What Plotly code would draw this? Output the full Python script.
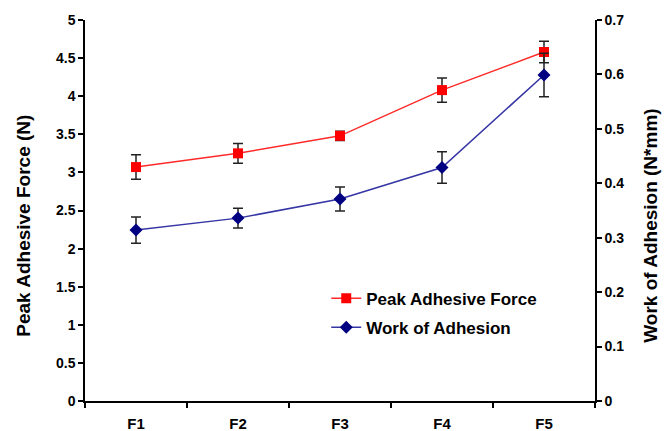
import plotly.graph_objects as go

categories = ["F1", "F2", "F3", "F4", "F5"]
peak_force = [3.07, 3.25, 3.48, 4.08, 4.58]
peak_force_err = [0.16, 0.13, 0.06, 0.16, 0.14]
work_adhesion = [0.314, 0.336, 0.371, 0.429, 0.599]
work_adhesion_err = [0.024, 0.018, 0.022, 0.029, 0.040]

left_ticks = [0, 0.5, 1, 1.5, 2, 2.5, 3, 3.5, 4, 4.5, 5]
left_ticktext = ["0", "0.5", "1", "1.5", "2", "2.5", "3", "3.5", "4", "4.5", "5"]
right_ticks = [0, 0.1, 0.2, 0.3, 0.4, 0.5, 0.6, 0.7]
right_ticktext = ["0", "0.1", "0.2", "0.3", "0.4", "0.5", "0.6", "0.7"]

FONT = "Liberation Sans, Arial, sans-serif"

fig = go.Figure()
fig.add_trace(go.Scatter(
    x=categories, y=peak_force, name="Peak Adhesive Force",
    mode="lines+markers", legendgroup="a",
    line=dict(color="#FF2A2A", width=1.5),
    marker=dict(symbol="square", size=10, color="#FF0000"),
    error_y=dict(type="data", array=peak_force_err, color="#222222", thickness=1.5, width=5),
    yaxis="y", xaxis="x",
))
fig.add_trace(go.Scatter(
    x=categories, y=work_adhesion, name="Work of Adhesion",
    mode="lines+markers", legendgroup="b",
    line=dict(color="#3535A5", width=1.5),
    marker=dict(symbol="diamond", size=10, color="#000080"),
    error_y=dict(type="data", array=work_adhesion_err, color="#222222", thickness=1.5, width=5),
    yaxis="y2", xaxis="x",
))

line_common = dict(showgrid=False, zeroline=False, linecolor="black", linewidth=1.5,
                   tickcolor="black", tickwidth=1.5, automargin=False)
tick_font = dict(family=FONT, size=14, color="black", weight="bold")
overlay_common = dict(showticklabels=False, showline=False, showgrid=False, zeroline=False,
                      tickcolor="black", tickwidth=1.5, automargin=False)

fig.update_layout(
    width=669, height=431,
    margin=dict(l=85, r=74, t=20, b=30),
    paper_bgcolor="white", plot_bgcolor="white",
    showlegend=True,
    legend=dict(x=0.473, y=0.316, xanchor="left", yanchor="top",
                bgcolor="rgba(0,0,0,0)", tracegroupgap=4,
                font=dict(family=FONT, size=17, color="black", weight="bold")),
    xaxis=dict(type="category", range=[-0.5, 4.5], tickson="boundaries",
               ticks="outside", ticklen=5, showline=True, ticklabelstandoff=8,
               tickfont=dict(family=FONT, size=15, color="black", weight="bold"),
               **line_common),
    xaxis2=dict(overlaying="x", type="linear", range=[-0.5, 4.5], anchor="y",
                tickvals=[-0.5, 0.5, 1.5, 2.5, 3.5, 4.5], ticks="inside", ticklen=6,
                **overlay_common),
    yaxis=dict(range=[0, 5], tickvals=left_ticks, ticktext=left_ticktext,
               ticks="outside", ticklen=5, showline=True, tickfont=tick_font, **line_common),
    yaxis2=dict(range=[0, 0.7], tickvals=right_ticks, ticktext=right_ticktext,
                overlaying="y", side="right", anchor="x",
                ticks="outside", ticklen=5, showline=True, tickfont=tick_font, **line_common),
    yaxis3=dict(range=[0, 5], tickvals=left_ticks, overlaying="y", side="left", anchor="x",
                ticks="inside", ticklen=5, **overlay_common),
    yaxis4=dict(range=[0, 0.7], tickvals=right_ticks, overlaying="y", side="right", anchor="x",
                ticks="inside", ticklen=5, **overlay_common),
    annotations=[
        dict(text="Peak Adhesive Force (N)", xref="paper", yref="paper",
             x=-0.1196, y=0.46, textangle=-90, showarrow=False,
             xanchor="center", yanchor="middle",
             font=dict(family=FONT, size=19, color="black", weight="bold")),
        dict(text="Work of Adhesion (N*mm)", xref="paper", yref="paper",
             x=1.1098, y=0.46, textangle=-90, showarrow=False,
             xanchor="center", yanchor="middle",
             font=dict(family=FONT, size=19, color="black", weight="bold")),
    ],
)

fig.write_html("out.html")
